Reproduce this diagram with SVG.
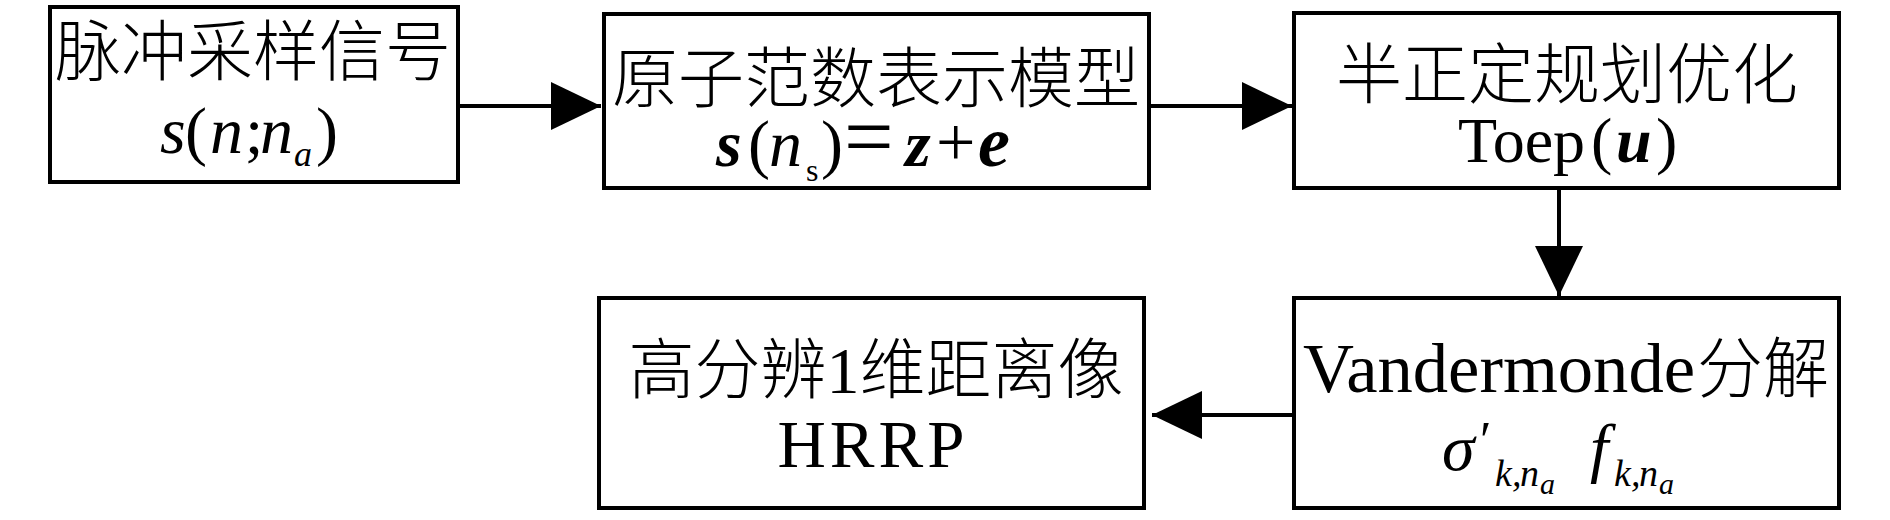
<svg xmlns="http://www.w3.org/2000/svg" width="1890" height="520" viewBox="0 0 1890 520">
<style>
.box{fill:#fff;stroke:#000;stroke-width:4}
.conn{stroke:#000;stroke-width:4;fill:none}
.cjk{font-family:"Noto Sans CJK SC","Noto Sans CJK JP",sans-serif;font-weight:300;fill:#000}
.lat{font-family:"Liberation Serif","Times New Roman",serif;fill:#000}
.it{font-style:italic}
.bi{font-style:italic;font-weight:bold}
</style>
<defs>
<marker id="arrow" markerUnits="userSpaceOnUse" markerWidth="50" markerHeight="48" refX="50" refY="24" orient="auto" viewBox="0 0 50 48">
<path d="M0,0 L50,24 L0,48 Z" fill="#000"/>
</marker>
</defs>
<rect width="1890" height="520" fill="#fff"/>
<g id="connectors">
<path class="conn" d="M458,106 H601" marker-end="url(#arrow)"/>
<path class="conn" d="M1149,106 H1292" marker-end="url(#arrow)"/>
<path class="conn" d="M1559,188 V296" marker-end="url(#arrow)"/>
<path class="conn" d="M1294,415 H1152" marker-end="url(#arrow)"/>
</g>
<g id="node-pulse">
<rect class="box" x="50" y="7" width="408" height="175"/>
<text class="cjk" font-size="66" x="253" y="75" text-anchor="middle">脉冲采样信号</text>
<text class="lat" font-size="66" y="153"><tspan class="it" x="160">s</tspan><tspan x="185">(</tspan><tspan class="it" x="210">n</tspan><tspan x="245">;</tspan><tspan class="it" x="260">n</tspan><tspan class="it" x="294" y="166" font-size="36">a</tspan><tspan x="316" y="153">)</tspan></text>
</g>
<g id="node-atomic">
<rect class="box" x="604" y="14" width="545" height="174"/>
<text class="cjk" font-size="66" x="876" y="102" text-anchor="middle">原子范数表示模型</text>
<text class="lat" font-size="66" y="166"><tspan class="bi" x="716">s</tspan><tspan x="748">(</tspan><tspan class="it" x="769">n</tspan><tspan x="806" y="181" font-size="32">s</tspan><tspan x="821" y="166">)</tspan><tspan x="844" font-size="88">=</tspan><tspan class="bi" x="905">z</tspan><tspan x="936" font-size="70">+</tspan><tspan class="bi" x="978" font-size="72">e</tspan></text>
</g>
<g id="node-sdp">
<rect class="box" x="1294" y="13" width="545" height="175"/>
<text class="cjk" font-size="66" x="1567" y="98" text-anchor="middle">半正定规划优化</text>
<text class="lat" font-size="64" y="162"><tspan x="1458">Toep</tspan><tspan x="1591">(</tspan><tspan class="bi" x="1616">u</tspan><tspan x="1656">)</tspan></text>
</g>
<g id="node-vander">
<rect class="box" x="1294" y="298" width="545" height="210"/>
<text class="lat" font-size="70" y="392"><tspan x="1303" textLength="392" lengthAdjust="spacingAndGlyphs">Vandermonde</tspan><tspan class="cjk" x="1697" font-size="66">分解</tspan></text>
<text class="lat" font-size="66" y="470"><tspan class="it" x="1442">σ</tspan><tspan x="1480" y="458" font-size="52">′</tspan><tspan class="it" x="1495" y="486" font-size="38">k</tspan><tspan class="it" x="1512" font-size="38">,</tspan><tspan class="it" x="1520" font-size="38">n</tspan><tspan class="it" x="1540" y="494" font-size="30">a</tspan><tspan class="it" x="1590" y="470">f</tspan><tspan class="it" x="1614" y="486" font-size="38">k</tspan><tspan class="it" x="1631" font-size="38">,</tspan><tspan class="it" x="1639" font-size="38">n</tspan><tspan class="it" x="1659" y="494" font-size="30">a</tspan></text>
</g>
<g id="node-hrrp">
<rect class="box" x="599" y="298" width="545" height="210"/>
<text class="cjk" font-size="66" x="876" y="393" text-anchor="middle">高分辨<tspan font-family="Liberation Serif, serif" font-weight="400">1</tspan>维距离像</text>
<text class="lat" font-size="67" x="873" y="467" text-anchor="middle" letter-spacing="4">HRRP</text>
</g>
</svg>
